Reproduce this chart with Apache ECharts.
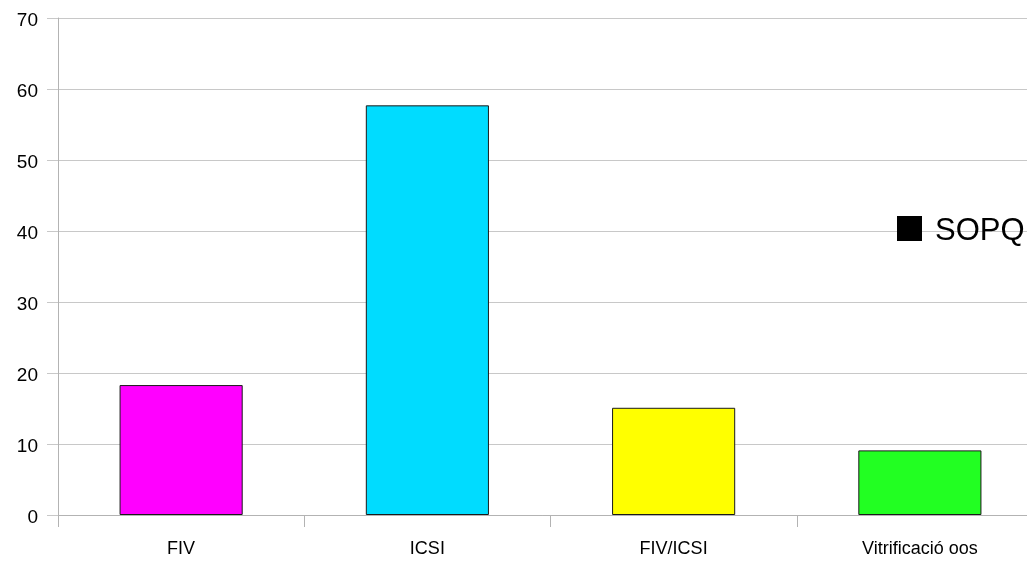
<!DOCTYPE html>
<html>
<head>
<meta charset="utf-8">
<title>SOPQ</title>
<script src="https://cdn.jsdelivr.net/npm/echarts@6/dist/echarts.min.js"></script>
<style>
  html, body { margin: 0; padding: 0; background: #ffffff; }
  #chart { width: 1027px; height: 561px; }
</style>
</head>
<body>
<div id="chart"></div>
<script>
// Categories and values of the single series
const categories = ['FIV', 'ICSI', 'FIV/ICSI', 'Vitrificació oos'];
const values = [18.3, 57.7, 15.1, 9.1];
const barColors = ['#ff00ff', '#00dcff', '#ffff00', '#22ff22'];
const seriesName = 'SOPQ';
const yTicks = { min: 0, max: 70, interval: 10 };

const font = '"Liberation Sans", Arial, sans-serif';
const gridColor = '#c8c8c8';
const axisColor = '#b3b3b3';

const chart = echarts.init(document.getElementById('chart'), null, { renderer: 'canvas' });

chart.setOption({
  animation: false,
  backgroundColor: '#ffffff',
  textStyle: { fontFamily: font },
  // the plot runs slightly past the right edge of the canvas
  grid: { left: 58, top: 18, width: 985, height: 497, containLabel: false, outerBoundsMode: 'none' },
  legend: {
    left: 897,
    top: 216,
    padding: 0,
    itemWidth: 25,
    itemHeight: 25,
    icon: 'rect',
    data: [{ name: seriesName, itemStyle: { color: '#000000', borderWidth: 0 } }],
    formatter: name => '{s|' + name + '}',
    textStyle: {
      fontFamily: font,
      fontSize: 31,
      color: '#000000',
      padding: [0, 0, 0, 8],
      rich: {
        s: { fontFamily: font, fontSize: 31, color: '#000000', padding: [6, 0, 0, 0] }
      }
    }
  },
  xAxis: {
    type: 'category',
    data: categories,
    boundaryGap: true,
    axisLine: { show: true, lineStyle: { color: axisColor, width: 1 } },
    axisTick: { show: true, length: 12, alignWithLabel: false, lineStyle: { color: axisColor } },
    axisLabel: { color: '#000000', fontSize: 18, fontFamily: font, margin: 25, interval: 0 },
    splitLine: { show: false }
  },
  yAxis: {
    type: 'value',
    min: yTicks.min,
    max: yTicks.max,
    interval: yTicks.interval,
    axisLine: { show: true, lineStyle: { color: axisColor, width: 1 } },
    axisTick: { show: true, length: 11, lineStyle: { color: gridColor } },
    axisLabel: {
      color: '#000000', fontSize: 19, fontFamily: font, margin: 20,
      formatter: '{v|{value}}',
      rich: { v: { fontFamily: font, fontSize: 19, color: '#000000', padding: [6, 0, 0, 0] } }
    },
    splitLine: { show: true, lineStyle: { color: gridColor, width: 1 } }
  },
  series: [{
    name: seriesName,
    type: 'bar',
    barWidth: '50%',
    itemStyle: { color: '#000000', borderColor: '#000000', borderWidth: 1 },
    data: values.map((v, i) => ({
      value: v,
      itemStyle: { color: barColors[i], borderColor: '#1a1a1a', borderWidth: 1 }
    }))
  }]
});
</script>
</body>
</html>
